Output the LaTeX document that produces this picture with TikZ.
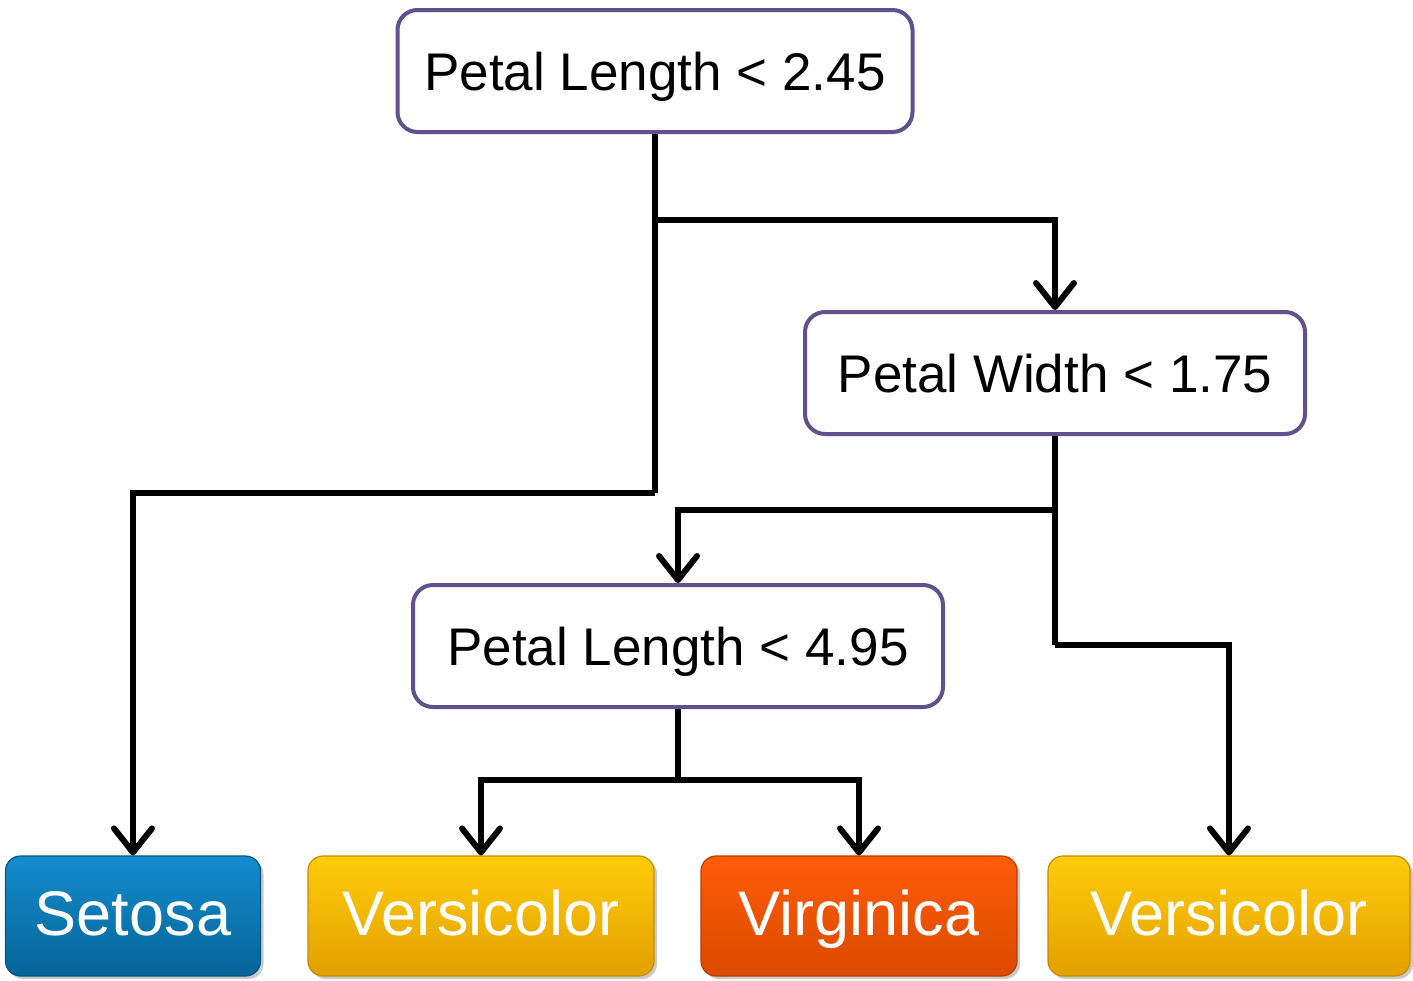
\documentclass[tikz,border=0pt]{standalone}
\usepackage{fontspec}
\setmainfont{Liberation Sans}
\usetikzlibrary{arrows.meta,shadows}
\definecolor{splitborder}{RGB}{96,80,140}
\definecolor{blueTop}{RGB}{20,140,205}
\definecolor{blueBot}{RGB}{5,100,152}
\definecolor{blueEdge}{RGB}{4,85,130}
\definecolor{yelTop}{RGB}{255,204,10}
\definecolor{yelBot}{RGB}{226,160,0}
\definecolor{yelEdge}{RGB}{200,140,0}
\definecolor{redTop}{RGB}{255,92,8}
\definecolor{redBot}{RGB}{218,74,0}
\definecolor{redEdge}{RGB}{185,62,0}
\tikzset{
  split/.style={draw=splitborder, line width=4pt, rounded corners=20pt, fill=white,
    minimum height=122pt, inner sep=0pt, font=\fontsize{53}{60}\selectfont,
    text height=38pt, text depth=0pt},
  leaf/.style={rounded corners=15pt, minimum height=120pt, inner sep=0pt,
    text=white, font=\fontsize{63}{70}\selectfont,
    text height=45pt, text depth=7pt,
    drop shadow={shadow xshift=3pt, shadow yshift=-3pt, opacity=0.35, fill=black!60}},
  setosaleaf/.style={leaf, draw=blueEdge, line width=1.2pt, top color=blueTop, bottom color=blueBot},
  versileaf/.style={leaf, draw=yelEdge, line width=1.2pt, top color=yelTop, bottom color=yelBot},
  virgleaf/.style={leaf, draw=redEdge, line width=1.2pt, top color=redTop, bottom color=redBot},
  wire/.style={line width=6pt, line join=miter},
  arr/.style={wire, -{Straight Barb[length=24pt, width=38pt, line width=6pt, round]}}
}
\begin{document}
\begin{tikzpicture}[x=1pt, y=-1pt]
\useasboundingbox (0,0) rectangle (1413,980);

% decision nodes
\node[split, minimum width=515pt] (root) at (655,71) {Petal Length < 2.45};
\node[split, minimum width=500pt] (width) at (1055,373) {Petal Width < 1.75};
\node[split, minimum width=530pt] (len) at (678,646) {Petal Length < 4.95};

% class leaves
\node[setosaleaf, minimum width=255pt] (setosa) at (133,916) {Setosa};
\node[versileaf, minimum width=346pt] (versA) at (481,916) {Versicolor};
\node[virgleaf, minimum width=316pt] (virg) at (859,916) {Virginica};
\node[versileaf, minimum width=362pt] (versB) at (1229,916) {Versicolor};

% branch points
\coordinate (jRootLow) at (655,493);
\coordinate (jRootHigh) at (655,220);
\coordinate (jWidthLow) at (1055,645);
\coordinate (jWidthHigh) at (1055,510);
\coordinate (jLen) at (678,780);

% connectors
\draw[wire] (root.south) -- (jRootLow);
\draw[arr] (jRootLow) -| (setosa.north);
\draw[arr] (jRootHigh) -| (width.north);
\draw[wire] (width.south) -- (jWidthLow);
\draw[arr] (jWidthLow) -| (versB.north);
\draw[arr] (jWidthHigh) -| (len.north);
\draw[wire] (len.south) -- (jLen);
\draw[arr] (jLen) -| (versA.north);
\draw[arr] (jLen) -| (virg.north);
\end{tikzpicture}
\end{document}
